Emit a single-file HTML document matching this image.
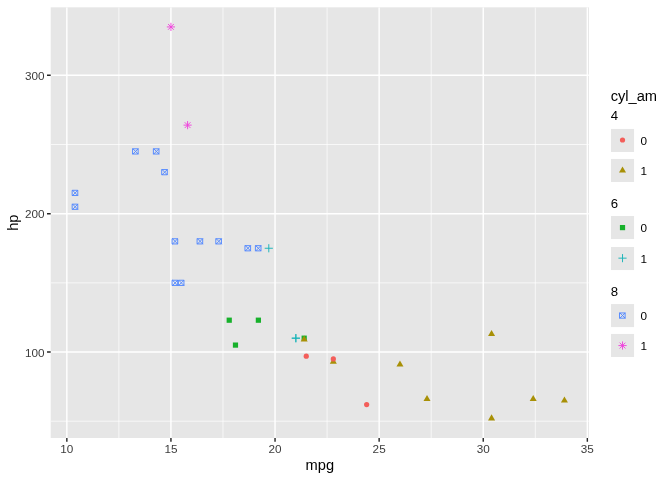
<!DOCTYPE html>
<html lang="en"><head><meta charset="utf-8"><title>hp vs mpg by cyl_am</title>
<style>html,body{margin:0;padding:0;background:#fff}svg{display:block;will-change:transform}</style></head>
<body>
<svg width="672" height="480" viewBox="0 0 672 480" font-family="'Liberation Sans', Arial, Helvetica, sans-serif">
<rect width="672" height="480" fill="#FFFFFF"/>
<rect x="50.7" y="7.33" width="538.2" height="430.67" fill="#E6E6E6"/>
<clipPath id="p"><rect x="50.7" y="7.33" width="538.2" height="430.67"/></clipPath>
<g clip-path="url(#p)">
<path d="M50.7 421.19H588.9M50.7 282.85H588.9M50.7 144.5H588.9M118.89 7.33V438M222.99 7.33V438M327.09 7.33V438M431.19 7.33V438M535.29 7.33V438" stroke="#FFFFFF" stroke-width="0.71" fill="none"/>
<path d="M50.7 352.02H588.9M50.7 213.67H588.9M50.7 75.33H588.9M66.84 7.33V438M170.94 7.33V438M275.04 7.33V438M379.14 7.33V438M483.24 7.33V438M587.34 7.33V438" stroke="#FFFFFF" stroke-width="1.42" fill="none"/>
<path d="M292.17 338.18H299.54M295.86 334.5V341.87" stroke="#17B3B7" stroke-width="0.94" stroke-linejoin="round" stroke-linecap="round" fill="none"/>
<path d="M292.17 338.18H299.54M295.86 334.5V341.87" stroke="#17B3B7" stroke-width="0.94" stroke-linejoin="round" stroke-linecap="round" fill="none"/>
<path d="M333.33 357.65L336.84 363.73L329.82 363.73Z" fill="#A89006"/>
<rect x="301.58" y="335.58" width="5.21" height="5.21" fill="#17B12B"/>
<path d="M245.36 245.65L250.58 250.87M245.36 250.87L250.58 245.65M245.36 245.65H250.58V250.87H245.36Z" stroke="#5086FF" stroke-width="0.94" stroke-linejoin="round" stroke-linecap="round" fill="none"/>
<rect x="232.87" y="342.49" width="5.21" height="5.21" fill="#17B12B"/>
<path d="M153.76 148.81L158.97 154.02M153.76 154.02L158.97 148.81M153.76 148.81H158.97V154.02H153.76Z" stroke="#5086FF" stroke-width="0.94" stroke-linejoin="round" stroke-linecap="round" fill="none"/>
<circle cx="366.65" cy="404.59" r="2.61" fill="#F35E5A"/>
<circle cx="333.33" cy="358.94" r="2.61" fill="#F35E5A"/>
<rect x="255.77" y="317.59" width="5.21" height="5.21" fill="#17B12B"/>
<rect x="226.63" y="317.59" width="5.21" height="5.21" fill="#17B12B"/>
<path d="M197.48 238.74L202.69 243.95M197.48 243.95L202.69 238.74M197.48 238.74H202.69V243.95H197.48Z" stroke="#5086FF" stroke-width="0.94" stroke-linejoin="round" stroke-linecap="round" fill="none"/>
<path d="M216.22 238.74L221.43 243.95M216.22 243.95L221.43 238.74M216.22 238.74H221.43V243.95H216.22Z" stroke="#5086FF" stroke-width="0.94" stroke-linejoin="round" stroke-linecap="round" fill="none"/>
<path d="M172.49 238.74L177.71 243.95M172.49 243.95L177.71 238.74M172.49 238.74H177.71V243.95H172.49Z" stroke="#5086FF" stroke-width="0.94" stroke-linejoin="round" stroke-linecap="round" fill="none"/>
<path d="M72.56 204.15L77.77 209.36M72.56 209.36L77.77 204.15M72.56 204.15H77.77V209.36H72.56Z" stroke="#5086FF" stroke-width="0.94" stroke-linejoin="round" stroke-linecap="round" fill="none"/>
<path d="M72.56 190.31L77.77 195.53M72.56 195.53L77.77 190.31M72.56 190.31H77.77V195.53H72.56Z" stroke="#5086FF" stroke-width="0.94" stroke-linejoin="round" stroke-linecap="round" fill="none"/>
<path d="M162.08 169.56L167.3 174.78M162.08 174.78L167.3 169.56M162.08 169.56H167.3V174.78H162.08Z" stroke="#5086FF" stroke-width="0.94" stroke-linejoin="round" stroke-linecap="round" fill="none"/>
<path d="M533.21 395L536.72 401.08L529.7 401.08Z" fill="#A89006"/>
<path d="M491.57 414.37L495.08 420.45L488.06 420.45Z" fill="#A89006"/>
<path d="M564.44 396.39L567.95 402.47L560.93 402.47Z" fill="#A89006"/>
<circle cx="306.27" cy="356.17" r="2.61" fill="#F35E5A"/>
<path d="M178.74 280.24L183.95 285.45M178.74 285.45L183.95 280.24M178.74 280.24H183.95V285.45H178.74Z" stroke="#5086FF" stroke-width="0.94" stroke-linejoin="round" stroke-linecap="round" fill="none"/>
<path d="M172.49 280.24L177.71 285.45M172.49 285.45L177.71 280.24M172.49 280.24H177.71V285.45H172.49Z" stroke="#5086FF" stroke-width="0.94" stroke-linejoin="round" stroke-linecap="round" fill="none"/>
<path d="M132.94 148.81L138.15 154.02M132.94 154.02L138.15 148.81M132.94 148.81H138.15V154.02H132.94Z" stroke="#5086FF" stroke-width="0.94" stroke-linejoin="round" stroke-linecap="round" fill="none"/>
<path d="M255.77 245.65L260.99 250.87M255.77 250.87L260.99 245.65M255.77 245.65H260.99V250.87H255.77Z" stroke="#5086FF" stroke-width="0.94" stroke-linejoin="round" stroke-linecap="round" fill="none"/>
<path d="M427.02 395L430.53 401.08L423.51 401.08Z" fill="#A89006"/>
<path d="M399.96 360.42L403.47 366.5L396.45 366.5Z" fill="#A89006"/>
<path d="M491.57 329.98L495.08 336.06L488.06 336.06Z" fill="#A89006"/>
<path d="M184.99 122.52L190.2 127.74M184.99 127.74L190.2 122.52M183.91 125.13H191.28M187.59 121.45V128.82" stroke="#EF43DC" stroke-width="0.94" stroke-linejoin="round" stroke-linecap="round" fill="none"/>
<path d="M265.1 248.26H272.48M268.79 244.57V251.94" stroke="#17B3B7" stroke-width="0.94" stroke-linejoin="round" stroke-linecap="round" fill="none"/>
<path d="M168.33 24.3L173.54 29.51M168.33 29.51L173.54 24.3M167.25 26.91H174.62M170.94 23.22V30.59" stroke="#EF43DC" stroke-width="0.94" stroke-linejoin="round" stroke-linecap="round" fill="none"/>
<path d="M304.18 335.51L307.7 341.59L300.67 341.59Z" fill="#A89006"/>
</g>
<path d="M47.03 352.02H50.7M47.03 213.67H50.7M47.03 75.33H50.7M66.84 438V441.7M170.94 438V441.7M275.04 438V441.7M379.14 438V441.7M483.24 438V441.7M587.34 438V441.7" stroke="#262626" stroke-width="1.42" fill="none"/>
<g font-size="11.73" fill="#3C3C3C">
<text x="44.5" y="357" text-anchor="end">100</text>
<text x="44.5" y="218" text-anchor="end">200</text>
<text x="44.5" y="80" text-anchor="end">300</text>
<text x="66.84" y="452.8" text-anchor="middle">10</text>
<text x="170.94" y="452.8" text-anchor="middle">15</text>
<text x="275.04" y="452.8" text-anchor="middle">20</text>
<text x="379.14" y="452.8" text-anchor="middle">25</text>
<text x="483.24" y="452.8" text-anchor="middle">30</text>
<text x="587.34" y="452.8" text-anchor="middle">35</text>
</g>
<text x="319.8" y="469.7" font-size="14.67" text-anchor="middle" fill="#000">mpg</text>
<text transform="translate(17.8 222.66) rotate(-90)" font-size="14.67" text-anchor="middle" fill="#000">hp</text>
<text x="610.65" y="100.8" font-size="14.67" fill="#000">cyl_am</text>
<text x="610.65" y="119.9" font-size="13.2" fill="#000">4</text>
<rect x="611.0" y="128.95" width="23.04" height="23.04" fill="#E6E6E6"/>
<circle cx="622.52" cy="140" r="2.61" fill="#F35E5A"/>
<text x="640.57" y="144.67" font-size="11.73" fill="#000">0</text>
<rect x="611.0" y="158.95" width="23.04" height="23.04" fill="#E6E6E6"/>
<path d="M622.52 166.45L626.03 172.53L619.01 172.53Z" fill="#A89006"/>
<text x="640.57" y="174.67" font-size="11.73" fill="#000">1</text>
<text x="610.65" y="207.9" font-size="13.2" fill="#000">6</text>
<rect x="611.0" y="216" width="23.04" height="23.04" fill="#E6E6E6"/>
<rect x="619.91" y="224.99" width="5.21" height="5.21" fill="#17B12B"/>
<text x="640.57" y="231.72" font-size="11.73" fill="#000">0</text>
<rect x="611.0" y="247" width="23.04" height="23.04" fill="#E6E6E6"/>
<path d="M618.83 258.15H626.21M622.52 254.46V261.84" stroke="#17B3B7" stroke-width="0.94" stroke-linejoin="round" stroke-linecap="round" fill="none"/>
<text x="640.57" y="262.72" font-size="11.73" fill="#000">1</text>
<text x="610.65" y="296.0" font-size="13.2" fill="#000">8</text>
<rect x="611.0" y="304.05" width="23.04" height="23.04" fill="#E6E6E6"/>
<path d="M619.91 312.94L625.13 318.16M619.91 318.16L625.13 312.94M619.91 312.94H625.13V318.16H619.91Z" stroke="#5086FF" stroke-width="0.94" stroke-linejoin="round" stroke-linecap="round" fill="none"/>
<text x="640.57" y="319.77" font-size="11.73" fill="#000">0</text>
<rect x="611.0" y="333.95" width="23.04" height="23.04" fill="#E6E6E6"/>
<path d="M619.91 342.94L625.13 348.16M619.91 348.16L625.13 342.94M618.83 345.55H626.21M622.52 341.86V349.24" stroke="#EF43DC" stroke-width="0.94" stroke-linejoin="round" stroke-linecap="round" fill="none"/>
<text x="640.57" y="349.67" font-size="11.73" fill="#000">1</text>
</svg>
</body></html>
